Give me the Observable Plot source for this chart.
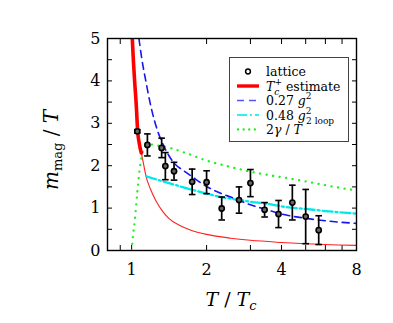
<!DOCTYPE html>
<html><head><meta charset="utf-8">
<script src="https://cdn.jsdelivr.net/npm/d3@7"></script>
<script src="https://cdn.jsdelivr.net/npm/@observablehq/plot@0.6"></script>
<style>body{margin:0;background:#fff} #c{width:393px;height:323px} #c svg text{font-family:"DejaVu Serif",serif !important}</style>
</head><body><div id="c"></div>
<script>
// lattice data
const latticeT   = [1.054,1.157,1.32,1.366,1.48,1.75,2.0,2.30,2.70,3.0,3.42,3.89,4.42,5.0,5.64];
const latticeM   = [2.81,2.49,2.42,1.99,1.87,1.62,1.61,0.99,1.19,1.59,0.96,0.86,1.13,0.80,0.48];
const latticeErr = [0.04,0.26,0.23,0.32,0.21,0.30,0.27,0.27,0.31,0.32,0.17,0.32,0.41,0.64,0.34];
// Tc+ estimate (thick and thin parts)
const redThickT = [1.006,1.017,1.028,1.044,1.057,1.075,1.094];
const redThickM = [5.0,4.45,4.0,3.42,2.83,2.5,2.3];
const redThinT  = [1.094,1.12,1.14,1.19,1.25,1.33,1.41,1.55,1.73,2,2.5,3,4,5,6,8];
const redThinM  = [2.3,2.0,1.77,1.45,1.18,0.93,0.76,0.6,0.48,0.38,0.29,0.24,0.19,0.16,0.14,0.12];
// 0.27 g^2
const blueT = [1.07,1.1,1.14,1.2,1.27,1.35,1.41,1.5,1.62,1.75,2,2.3,2.5,3,3.5,4,5,6,8];
const blueM = [5,4.5,4.0,3.35,2.83,2.45,2.24,2.03,1.88,1.74,1.51,1.34,1.26,1.08,0.96,0.86,0.76,0.7,0.64];
// 0.48 g^2 (2 loop)
const cyanT = [1.146,1.25,1.39,1.55,1.73,2,2.5,3,3.63,4,5,6,8];
const cyanM = [1.75,1.68,1.6,1.52,1.44,1.34,1.22,1.15,1.09,1.04,0.98,0.93,0.87];
// 2 gamma / T
const greenT = [1.0,1.015,1.03,1.054,1.08,1.12,1.18,1.29,1.46,1.65,2,2.5,3,3.63,4,5,6,7,8];
const greenM = [0,0.4,0.71,1.38,1.97,2.40,2.5,2.47,2.40,2.3,2.12,1.97,1.86,1.77,1.73,1.63,1.54,1.47,1.42];
// ticks
const xTickLabels = [1,2,4,8];
const xTicks = [0.9,1,2,3,4,5,6,7,8];
const yTickLabels = [0,1,2,3,4,5];
const yTicks = [0,0.5,1,1.5,2,2.5,3,3.5,4,4.5,5];

const zip = (T, M) => T.map((t, i) => ({T: t, M: M[i]}));
const lattice = latticeT.map((t, i) => ({T: t, M: latticeM[i], lo: latticeM[i] - latticeErr[i], hi: latticeM[i] + latticeErr[i]}));
const cap = {draw(ctx, size) { const w = Math.sqrt(size / Math.PI); ctx.moveTo(-w, 0); ctx.lineTo(w, 0); }};

const plot = Plot.plot({
  width: 393, height: 323,
  marginLeft: 107, marginRight: 37, marginTop: 38, marginBottom: 73,
  style: {fontFamily: "'DejaVu Serif', serif", fontSize: "16px", color: "black", background: "white"},
  x: {type: "log", domain: [0.8, 8]},
  y: {domain: [0, 5]},
  marks: [
    Plot.axisX({anchor: "bottom", ticks: xTickLabels, tickSize: 0, tickPadding: 13, tickFormat: d => String(d), label: null, fontSize: 16}),
    Plot.axisX({anchor: "bottom", ticks: xTicks, tickSize: -5, tickFormat: () => "", label: null}),
    Plot.axisX({anchor: "top", ticks: xTicks, tickSize: -5, tickFormat: () => "", label: null}),
    Plot.axisY({anchor: "left", ticks: yTickLabels, tickSize: 0, tickPadding: 7, tickFormat: d => String(d), label: null, fontSize: 16}),
    Plot.axisY({anchor: "left", ticks: yTicks, tickSize: -5, tickFormat: () => "", label: null}),
    Plot.axisY({anchor: "right", ticks: yTicks, tickSize: -5, tickFormat: () => "", label: null}),
    Plot.line(zip(redThinT, redThinM), {x: "T", y: "M", stroke: "#ff2020", strokeWidth: 1.1, curve: "monotone-x", clip: true}),
    Plot.line(zip(greenT, greenM), {x: "T", y: "M", stroke: "#22ee22", strokeWidth: 2.3, strokeDasharray: "0.1,6.5", strokeLinecap: "round", curve: "monotone-x", clip: true}),
    Plot.line(zip(cyanT, cyanM), {x: "T", y: "M", stroke: "#00e8e8", strokeWidth: 2.3, strokeDasharray: "10,3,2,3", curve: "monotone-x", clip: true}),
    Plot.line(zip(blueT, blueM), {x: "T", y: "M", stroke: "#1818ee", strokeWidth: 1.6, strokeDasharray: "7,5", curve: "monotone-x", clip: true}),
    Plot.line(zip(redThickT, redThickM), {x: "T", y: "M", stroke: "#ff0000", strokeWidth: 3.6, curve: "monotone-x", clip: true}),
    Plot.ruleX(lattice, {x: "T", y1: "lo", y2: "hi", stroke: "black", strokeWidth: 1.7}),
    Plot.dot(lattice, {x: "T", y: "lo", symbol: cap, r: 3.3, stroke: "black", strokeWidth: 1.6, fill: "none"}),
    Plot.dot(lattice, {x: "T", y: "hi", symbol: cap, r: 3.3, stroke: "black", strokeWidth: 1.6, fill: "none"}),
    Plot.dot(lattice, {x: "T", y: "M", r: 2.6, stroke: "black", strokeWidth: 1.6, fill: "#666"}),
    Plot.frame({stroke: "black", strokeWidth: 1.4})
  ]
});
document.getElementById("c").appendChild(plot);

const svg = d3.select(plot);
const serif = "'DejaVu Serif', serif";
// axis titles
svg.append("text").attr("x", 231).attr("y", 306).attr("text-anchor", "middle")
  .attr("font-family", serif).attr("font-size", 19).attr("fill", "black")
  .html('<tspan font-style="italic">T</tspan> / <tspan font-style="italic">T</tspan><tspan font-style="italic" font-size="13" dy="4">c</tspan>');
svg.append("text").attr("transform", "translate(58,150) rotate(-90)").attr("text-anchor", "middle")
  .attr("font-family", serif).attr("font-size", 20).attr("fill", "black")
  .html('<tspan font-style="italic">m</tspan><tspan font-size="13" dy="4">mag</tspan><tspan dy="-4"> / </tspan><tspan font-style="italic">T</tspan>');

// legend
const lg = svg.append("g");
lg.append("rect").attr("x", 229.5).attr("y", 57.5).attr("width", 119).attr("height", 84)
  .attr("fill", "white").attr("stroke", "#444").attr("stroke-width", 1);
const rows = [71.5, 86, 100.5, 115, 129.5];
const lx1 = 237, lx2 = 259, tx = 266;
lg.append("circle").attr("cx", 248).attr("cy", rows[0]).attr("r", 2.4).attr("fill", "none").attr("stroke", "black").attr("stroke-width", 1.5);
lg.append("line").attr("x1", lx1).attr("x2", lx2).attr("y1", rows[1]).attr("y2", rows[1]).attr("stroke", "#ff0000").attr("stroke-width", 3.4);
lg.append("line").attr("x1", lx1).attr("x2", lx2).attr("y1", rows[2]).attr("y2", rows[2]).attr("stroke", "#5555ff").attr("stroke-width", 1.5).attr("stroke-dasharray", "7,5");
lg.append("line").attr("x1", lx1).attr("x2", lx2).attr("y1", rows[3]).attr("y2", rows[3]).attr("stroke", "#33eeee").attr("stroke-width", 2.2).attr("stroke-dasharray", "10,3,2,3");
lg.append("line").attr("x1", lx1 + 1).attr("x2", lx2).attr("y1", rows[4]).attr("y2", rows[4]).attr("stroke", "#22ee22").attr("stroke-width", 2.3).attr("stroke-dasharray", "0.1,5.5").attr("stroke-linecap", "round");
const labels = [
  'lattice',
  '<tspan font-style="italic">T</tspan><tspan font-style="italic" font-size="9" dy="4">c</tspan><tspan font-size="9" dx="-5" dy="-10">+</tspan><tspan dy="6"> estimate</tspan>',
  '0.27 <tspan font-style="italic">g</tspan><tspan font-size="9" dy="-6">2</tspan>',
  '0.48 <tspan font-style="italic">g</tspan><tspan font-size="9" dy="-6">2</tspan><tspan font-size="9" dx="-5.5" dy="10">2 loop</tspan>',
  '2<tspan font-style="italic">γ</tspan> / <tspan font-style="italic">T</tspan>'
];
labels.forEach((h, i) => {
  lg.append("text").attr("x", tx).attr("y", rows[i] + 4.5).attr("text-anchor", "start")
    .attr("font-family", serif).attr("font-size", 12.5).attr("fill", "black").html(h);
});
</script>
</body></html>
